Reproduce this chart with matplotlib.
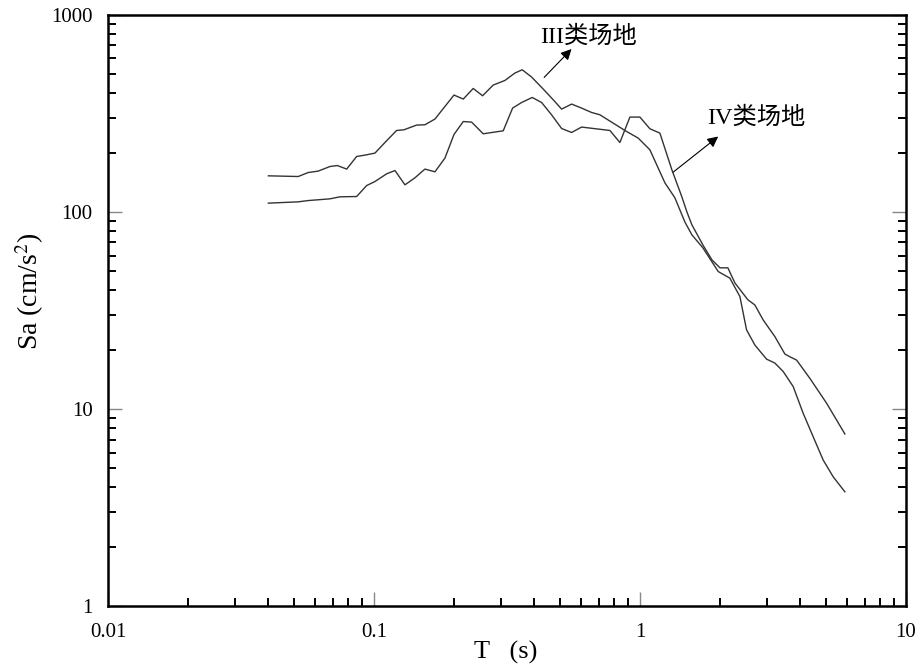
import matplotlib
matplotlib.use("Agg")
import matplotlib.pyplot as plt
from matplotlib.ticker import LogLocator, FixedLocator, FixedFormatter, NullFormatter

# Site class III spectrum (period s, Sa cm/s^2)
T_III = [0.0401, 0.0519, 0.0566, 0.0617, 0.0683, 0.0728, 0.0790, 0.0861, 0.0925, 0.1009,
         0.110, 0.1217, 0.1297, 0.1447, 0.1555, 0.1696, 0.200, 0.2167, 0.2362, 0.2562,
         0.2809, 0.3108, 0.3389, 0.3610, 0.3917, 0.4330, 0.4722, 0.5077, 0.5536, 0.6036,
         0.6582, 0.7073, 0.7935, 0.8913, 0.9854, 1.0905, 1.2416, 1.354, 1.476, 1.569,
         1.725, 1.970, 2.179, 2.377, 2.518, 2.706, 2.994, 3.217, 3.457, 3.770,
         4.111, 4.483, 4.888, 5.330, 5.898]
Sa_III = [152.3, 151.1, 158.3, 160.9, 169.8, 171.8, 164.8, 190.9, 194.0, 198.6,
          224.8, 258.7, 260.8, 275.5, 276.5, 295.6, 391.3, 373.4, 422.6, 388.1,
          439.7, 464.0, 505.9, 525.7, 482.8, 419.6, 370.3, 332.0, 352.1, 336.0,
          319.3, 310.7, 281.9, 255.6, 236.7, 206.4, 140.4, 117.8, 88.9, 76.4,
          65.7, 49.8, 46.1, 37.2, 25.2, 21.1, 17.9, 17.1, 15.5, 13.0,
          9.51, 7.23, 5.51, 4.53, 3.80]

# Site class IV spectrum
T_IV = [0.0401, 0.0519, 0.0566, 0.0683, 0.0745, 0.0861, 0.0939, 0.1009, 0.1116, 0.1200,
        0.1308, 0.1426, 0.1555, 0.1696, 0.1849, 0.200, 0.2167, 0.2330, 0.2576, 0.3063,
        0.3322, 0.3591, 0.3937, 0.4271, 0.4656, 0.5077, 0.5536, 0.6036, 0.7713, 0.8411,
        0.9171, 1.000, 1.0905, 1.189, 1.319, 1.438, 1.502, 1.569, 1.725, 1.865,
        2.000, 2.142, 2.276, 2.547, 2.706, 2.907, 3.217, 3.509, 3.664, 3.883,
        4.357, 5.034, 5.898]
Sa_IV = [110.7, 112.4, 114.1, 116.4, 119.2, 119.6, 136.0, 142.5, 155.9, 162.0,
         137.1, 148.8, 164.8, 159.6, 187.3, 246.9, 287.2, 285.2, 248.9, 257.7,
         336.0, 358.6, 380.4, 358.6, 310.7, 264.8, 252.7, 269.2, 258.7, 224.8,
         302.5, 302.5, 263.9, 250.9, 163.4, 119.2, 100.0, 85.9, 68.0, 57.1,
         52.0, 52.0, 43.6, 35.8, 33.7, 28.3, 23.3, 19.0, 18.4, 17.7,
         14.3, 10.7, 7.47]

x_ticks = [0.01, 0.1, 1, 10]
x_ticklabels = ["0.01", "0.1", "1", "10"]
y_ticks = [1, 10, 100, 1000]
y_ticklabels = ["1", "10", "100", "1000"]

plt.rcParams['mathtext.fontset'] = 'stix'
serif = ['Liberation Serif', 'Noto Sans CJK SC']

fig = plt.figure(figsize=(9.15, 6.69), dpi=100)
ax = fig.add_axes([0.118, 0.094, 0.872, 0.884])

ax.plot(T_III, Sa_III, color='#333333', lw=1.0)
ax.plot(T_IV, Sa_IV, color='#333333', lw=1.0)

ax.set_xscale('log')
ax.set_yscale('log')
ax.set_xlim(0.01, 10)
ax.set_ylim(1, 1000)

ax.xaxis.set_major_locator(FixedLocator(x_ticks))
ax.xaxis.set_major_formatter(FixedFormatter(x_ticklabels))
ax.yaxis.set_major_locator(FixedLocator(y_ticks))
ax.yaxis.set_major_formatter(FixedFormatter(y_ticklabels))
ax.xaxis.set_minor_locator(LogLocator(base=10, subs=range(2, 10)))
ax.yaxis.set_minor_locator(LogLocator(base=10, subs=range(2, 10)))
ax.xaxis.set_minor_formatter(NullFormatter())
ax.yaxis.set_minor_formatter(NullFormatter())

ax.tick_params(which='major', direction='in', length=10, width=1.0, color='#888888',
               labelsize=15, top=False, right=True)
ax.tick_params(axis='y', which='major', pad=11)
ax.tick_params(axis='x', which='major', pad=12)
ax.tick_params(which='minor', direction='in', length=6, width=1.4, color='black',
               top=False, right=True)
for lab in ax.get_xticklabels() + ax.get_yticklabels():
    lab.set_family(serif)

for s in ax.spines.values():
    s.set_linewidth(1.8)
    s.set_color('black')

ax.set_xlabel('T   (s)', fontsize=19, family=serif)
ax.set_ylabel('Sa (cm/s$^2$)', fontsize=20, family=serif)
ax.xaxis.set_label_coords(0.498, -0.058)
ax.yaxis.set_label_coords(-0.098, 0.533)
ax.yaxis.label.set_va('center')

arrow = dict(arrowstyle='-|>', color='black', lw=0.8, mutation_scale=16,
             shrinkA=0, shrinkB=0)
ax.annotate('', xy=(0.581, 0.942), xytext=(0.5467, 0.894),
            xycoords='axes fraction', textcoords='axes fraction', arrowprops=arrow)
ax.text(0.602, 0.962, 'III类场地', transform=ax.transAxes, fontsize=17.5, family=serif,
        ha='center', va='center')

ax.annotate('', xy=(0.7648, 0.794), xytext=(0.7084, 0.7338),
            xycoords='axes fraction', textcoords='axes fraction', arrowprops=arrow)
ax.text(0.812, 0.826, 'IV类场地', transform=ax.transAxes, fontsize=17.5, family=serif,
        ha='center', va='center')

fig.savefig('out.png', dpi=100)
